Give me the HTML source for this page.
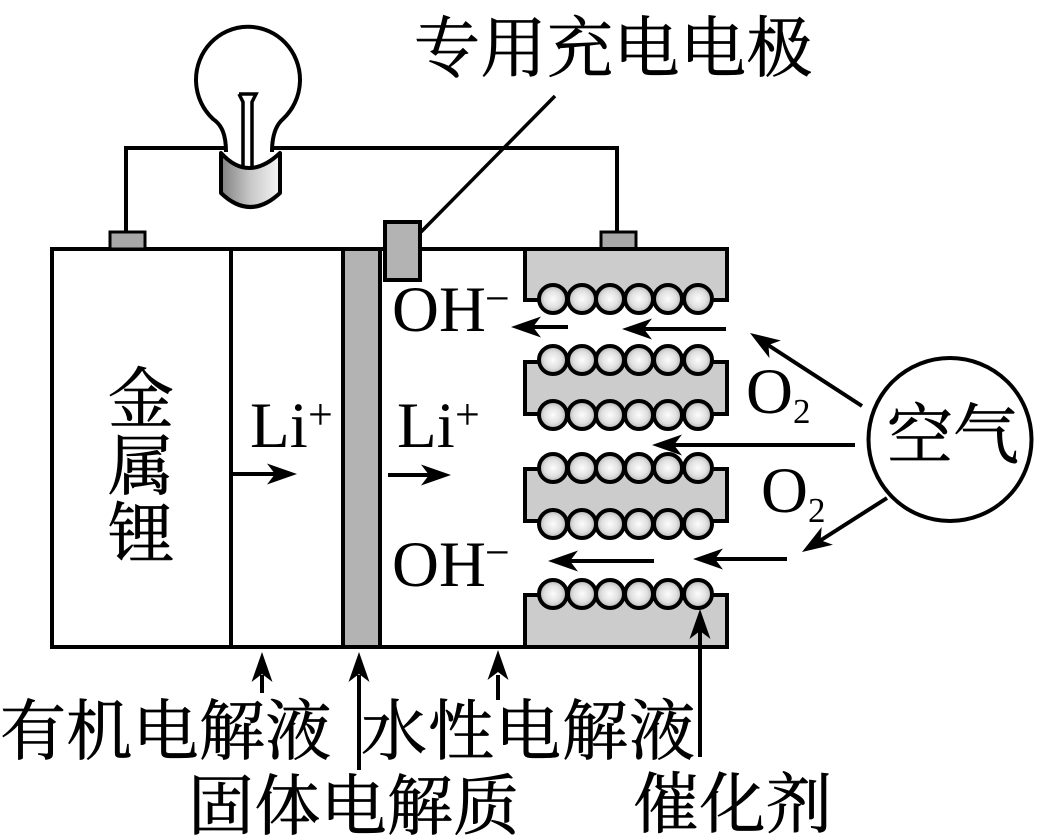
<!DOCTYPE html>
<html><head><meta charset="utf-8">
<style>
html,body{margin:0;padding:0;background:#fff}
svg{display:block}
.c{font-family:"Liberation Serif","Noto Serif CJK SC",serif;font-size:66px;fill:#000;stroke:#000;stroke-width:.7px}
.l{font-family:"Liberation Serif",serif;font-size:65px;fill:#000}
.s{font-family:"Liberation Serif",serif;font-size:44px;fill:#000}
.n{font-family:"Liberation Serif",serif;font-size:35px;fill:#000}
</style></head><body>
<svg width="1063" height="838" viewBox="0 0 1063 838" xmlns="http://www.w3.org/2000/svg">
<defs>
<radialGradient id="b"><stop offset="0" stop-color="#fcfcfc"/><stop offset=".6" stop-color="#e0e0e0"/><stop offset="1" stop-color="#b0b0b0"/></radialGradient>
<linearGradient id="g" x1="0" x2="1" y1="0" y2="0"><stop offset="0" stop-color="#808080"/><stop offset=".5" stop-color="#c8c8c8"/><stop offset="1" stop-color="#f4f4f4"/></linearGradient>
<polygon id="h" points="0,0 30,-10.5 22,0 30,10.5" fill="#000"/>
<g id="r"><circle cx="553" cy="0" r="14"/><circle cx="582" cy="0" r="14"/><circle cx="610" cy="0" r="14"/><circle cx="639" cy="0" r="14"/><circle cx="668" cy="0" r="14"/><circle cx="698" cy="0" r="14"/></g>
</defs>
<rect width="1063" height="838" fill="#fff"/>

<!-- wires -->
<g fill="none" stroke="#000" stroke-width="4">
<path d="M225,148H126V232M273,148H617V232"/>
<path d="M421,232L555,96" stroke-width="3.5"/>
</g>

<!-- bulb -->
<path d="M226,152C226,135 222,125 213,119A52,53 0 1 1 283,119C276,125 272,135 272,152" fill="#fff" stroke="#000" stroke-width="4"/>
<path d="M239,94H256L252,102V166M239,94L243,102V166" fill="#fff" stroke="#000" stroke-width="3.5"/>
<path d="M221,153Q248,183 280,153V193Q250,221 221,193Z" fill="url(#g)" stroke="#000" stroke-width="4" stroke-linejoin="round"/>

<!-- battery -->
<path d="M525,249H52V647H525" fill="#fff" stroke="#000" stroke-width="4"/>
<path d="M231,249V647" stroke="#000" stroke-width="4"/>
<rect x="343" y="249" width="37" height="398" fill="#b3b3b3" stroke="#000" stroke-width="4"/>
<rect x="110" y="232" width="35" height="17" fill="#a8a8a8" stroke="#000" stroke-width="3"/>
<rect x="601" y="232" width="35" height="17" fill="#a8a8a8" stroke="#000" stroke-width="3"/>

<!-- cathode blocks -->
<g fill="#ccc" stroke="#000" stroke-width="4">
<path d="M525,249H727V300H525Z"/>
<rect x="525" y="362" width="202" height="52"/>
<rect x="525" y="469" width="202" height="52"/>
<path d="M525,595H727V647H525Z"/>
</g>
<rect x="385" y="222" width="35" height="58" fill="#b3b3b3" stroke="#000" stroke-width="4"/>
<g fill="url(#b)" stroke="#000" stroke-width="4">
<use href="#r" y="299"/><use href="#r" y="360"/><use href="#r" y="415"/>
<use href="#r" y="468"/><use href="#r" y="524"/><use href="#r" y="594"/>
</g>

<!-- air circle -->
<circle cx="950" cy="439.5" r="81.5" fill="#fff" stroke="#000" stroke-width="4"/>

<!-- arrows -->
<g stroke="#000" stroke-width="4" fill="none">
<path d="M568,327H530M726,329H640M855,445H670M654,561H566M787,559H712"/>
<path d="M231,474H275M388,475H430"/>
<path d="M262,693V675M359,770V675M498,700V675M700,757V630" />
<path d="M862,406L768,345M887,498L818,542"/>
</g>
<use href="#h" transform="translate(511,327)"/>
<use href="#h" transform="translate(622,329)"/>
<use href="#h" transform="translate(652,445)"/>
<use href="#h" transform="translate(548,561)"/>
<use href="#h" transform="translate(693,559)"/>
<use href="#h" transform="translate(297,474) rotate(180)"/>
<use href="#h" transform="translate(451,475) rotate(180)"/>
<use href="#h" transform="translate(262,652) rotate(90)"/>
<use href="#h" transform="translate(359,652) rotate(90)"/>
<use href="#h" transform="translate(498,650) rotate(90)"/>
<use href="#h" transform="translate(700,609) rotate(90)"/>
<use href="#h" transform="translate(750,333) rotate(33)"/>
<use href="#h" transform="translate(802,552) rotate(-32.4)"/>

<!-- labels -->
<text class="c" x="414" y="71" letter-spacing="0.5">专用充电电极</text>
<text class="c" x="108" y="422">金</text>
<text class="c" x="108" y="489">属</text>
<text class="c" x="108" y="557">锂</text>
<text class="l" x="250" y="447">Li</text><text class="s" x="308" y="429">+</text>
<text class="l" x="397" y="447">Li</text><text class="s" x="455" y="429">+</text>
<text class="l" x="392" y="331">OH</text><text class="s" x="485" y="313">−</text>
<text class="l" x="392" y="586">OH</text><text class="s" x="485" y="567">−</text>
<text class="l" x="746" y="413">O</text><text class="n" x="793" y="423">2</text>
<text class="l" x="761" y="512">O</text><text class="n" x="808" y="522">2</text>
<text class="c" x="887" y="458">空气</text>
<text class="c" x="0" y="754" letter-spacing="0.3">有机电解液</text>
<text class="c" x="361" y="754" letter-spacing="1">水性电解液</text>
<text class="c" x="188" y="829" letter-spacing="0.3">固体电解质</text>
<text class="c" x="633" y="827" letter-spacing="0.5">催化剂</text>
</svg>
</body></html>
